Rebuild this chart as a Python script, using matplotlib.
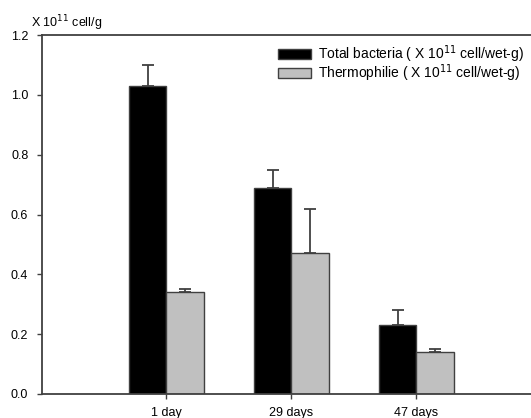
import matplotlib.pyplot as plt
import numpy as np

plt.rcParams['font.family'] = ['Liberation Sans', 'DejaVu Sans']

days = ['1 day', '29 days', '47 days']
total = [1.03, 0.69, 0.23]
total_err = [0.07, 0.06, 0.05]
thermo = [0.34, 0.47, 0.14]
thermo_err = [0.01, 0.15, 0.01]

fig = plt.figure(figsize=(5.31, 4.18), dpi=100)
# right side of the frame runs past the picture edge, like the original
ax = fig.add_axes([41.5/531, 24/418, 500/531, 359/418])

x = np.arange(len(days))
w = 0.3
edge = '#404040'
ax.bar(x - w/2, total, w, color='black', edgecolor=edge, linewidth=1,
       yerr=[np.zeros(3), total_err], capsize=4,
       error_kw=dict(ecolor=edge, elinewidth=1.3, capthick=1.3),
       label='Total bacteria ( X 10$^{11}$ cell/wet-g)')
ax.bar(x + w/2, thermo, w, color='#c0c0c0', edgecolor=edge, linewidth=1,
       yerr=[np.zeros(3), thermo_err], capsize=4,
       error_kw=dict(ecolor=edge, elinewidth=1.3, capthick=1.3),
       label='Thermophilie ( X 10$^{11}$ cell/wet-g)')

ax.set_xlim(-1.0, 3.0)
ax.set_ylim(0, 1.2)
ax.set_xticks(x)
ax.set_xticklabels(days, fontsize=9)
ax.set_yticks(np.arange(0, 1.21, 0.2))
ax.set_yticklabels(['0.0', '0.2', '0.4', '0.6', '0.8', '1.0', '1.2'], fontsize=9)
ax.tick_params(direction='out', length=3.5, color=edge, width=1)
ax.tick_params(axis='x', pad=6)
ax.tick_params(axis='y', pad=6)
for s in ax.spines.values():
    s.set_color(edge)
    s.set_linewidth(1.3)

fig.text(31/531, 1 - 27/418, 'X 10$^{11}$ cell/g', fontsize=9,
         ha='left', va='baseline')

leg = ax.legend(loc='upper left', frameon=False, fontsize=10, handlelength=2.4,
                handleheight=0.72, labelspacing=-0.15, handletextpad=0.5,
                borderpad=0, borderaxespad=0,
                bbox_to_anchor=(278/531, 1 - 43/418),
                bbox_transform=fig.transFigure)

fig.savefig('out.png', dpi=100)
